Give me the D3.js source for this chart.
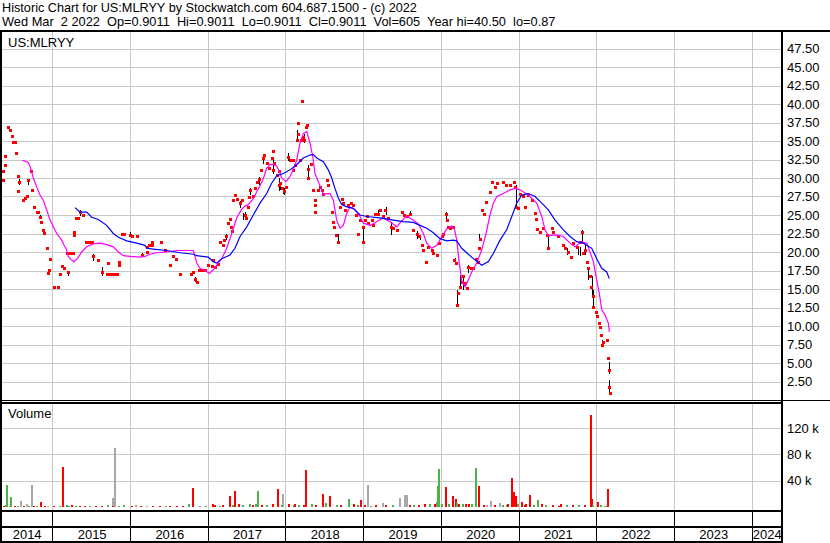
<!DOCTYPE html>
<html><head><meta charset="utf-8">
<script src="https://cdn.jsdelivr.net/npm/d3@7"></script>
<style>
body{margin:0;background:#fff}
svg{display:block}
text{font-family:"Liberation Sans",Arial,Helvetica,sans-serif;fill:#000}
</style>
</head><body>
<svg id="c" width="830" height="543"></svg>
<script>
// ---------------- DATA ----------------
const titleLine1 = "Historic Chart for US:MLRYY by Stockwatch.com 604.687.1500 - (c) 2022";
const titleLine2 = "Wed Mar  2 2022  Op=0.9011  Hi=0.9011  Lo=0.9011  Cl=0.9011  Vol=605  Year hi=40.50  lo=0.87";
const symbol = "US:MLRYY";

const years = [2014,2015,2016,2017,2018,2019,2020,2021,2022,2023,2024];
const priceTicks = [2.5,5,7.5,10,12.5,15,17.5,20,22.5,25,27.5,30,32.5,35,37.5,40,42.5,45,47.5];
const volTicks = [40,80,120];
const volTickLabels = ["40 k","80 k","120 k"];

// daily closes (decimal year, price)
const dotDates = [2014.362,2014.369,2014.387,2014.387,2014.430,2014.456,2014.478,2014.498,2014.514,2014.533,2014.563,2014.575,2014.563,2014.627,2014.650,2014.671,2014.691,2014.722,2014.735,2014.765,2014.799,2014.820,2014.842,2014.851,2014.884,2014.893,2014.928,2014.971,2014.962,2014.941,
2015.022,2015.077,2015.099,2015.121,2015.151,2015.206,2015.189,2015.228,2015.267,2015.279,2015.285,2015.305,2015.331,2015.357,2015.399,2015.434,2015.455,2015.480,2015.507,2015.520,2015.584,2015.636,2015.700,2015.720,2015.743,2015.713,2015.785,2015.807,2015.833,2015.859,2015.862,2015.893,2015.923,
2016.000,2016.022,2016.086,2016.151,2016.215,2016.217,2016.245,2016.279,2016.282,2016.399,2016.451,2016.515,2016.557,2016.592,2016.647,2016.785,2016.807,2016.837,2016.858,2016.892,2016.927,2016.965,
2017.008,2017.052,2017.072,2017.094,2017.137,2017.158,2017.193,2017.210,2017.236,2017.265,2017.287,2017.300,2017.317,2017.330,2017.351,2017.381,2017.416,2017.438,2017.480,2017.489,2017.523,2017.536,2017.545,2017.587,2017.609,2017.631,2017.660,2017.682,2017.716,2017.728,2017.759,2017.793,2017.823,2017.836,2017.844,2017.853,2017.888,2017.913,2017.921,2017.930,2017.952,2017.982,
2018.008,2018.037,2018.059,2018.094,2018.101,2018.123,2018.145,2018.158,2018.166,2018.188,2018.197,2018.210,2018.230,2018.239,2018.265,2018.274,2018.287,2018.290,2018.330,2018.359,2018.381,2018.383,2018.385,2018.424,2018.445,2018.467,2018.488,2018.531,2018.552,2018.596,2018.609,2018.626,2018.651,2018.681,2018.703,2018.732,2018.745,2018.767,2018.810,2018.844,2018.874,2018.909,2018.938,2018.960,2018.995,2018.997,
2019.025,2019.046,2019.067,2019.111,2019.131,2019.153,2019.195,2019.217,2019.252,2019.282,2019.324,2019.355,2019.389,2019.433,2019.497,2019.527,2019.562,2019.604,2019.647,2019.691,2019.724,2019.755,2019.775,2019.810,2019.839,2019.883,2019.904,2019.948,2019.981,
2020.012,2020.032,2020.063,2020.076,2020.097,2020.119,2020.161,2020.174,2020.196,2020.213,2020.215,2020.247,2020.269,2020.290,2020.312,2020.333,2020.354,2020.385,2020.418,2020.453,2020.483,2020.492,2020.505,2020.527,2020.556,2020.582,2020.633,2020.655,2020.698,2020.720,2020.805,2020.840,2020.891,2020.943,2020.955,2020.968,2020.998,
2021.019,2021.062,2021.084,2021.126,2021.170,2021.213,2021.225,2021.234,2021.277,2021.319,2021.363,2021.384,2021.427,2021.448,2021.512,2021.569,2021.598,2021.641,2021.672,2021.706,2021.749,2021.792,2021.814,2021.826,2021.856,2021.878,2021.899,2021.920,2021.933,2021.955,2021.963,2021.997,
2022.014,2022.040,2022.049,2022.058,2022.071,2022.091,2022.135,2022.156,2022.165,2022.169,2022.175];
const dotClose = [30.9,29.7,33.0,31.7,36.9,36.5,35.7,34.8,34.8,33.4,30.3,29.4,28.3,27.0,27.3,27.6,29.7,31.0,28.4,26.1,25.4,25.4,24.7,24.0,23.0,22.6,20.6,19.1,17.6,17.2,
15.3,15.3,17.0,18.1,17.8,17.3,19.9,19.9,19.9,22.3,22.7,24.6,24.6,25.4,25.0,21.3,21.3,21.3,21.3,19.4,18.9,17.3,17.0,17.0,17.0,18.5,17.0,17.0,17.0,18.7,18.3,22.5,22.4,
22.3,22.2,22.2,19.6,20.7,20.0,20.9,21.3,20.9,21.4,20.3,18.3,19.4,19.1,17.0,17.0,17.3,16.3,16.0,17.6,17.6,17.6,
18.3,18.1,18.9,18.0,18.4,21.4,20.9,21.6,22.1,23.9,24.4,23.4,22.9,27.0,27.7,27.1,26.6,27.0,25.0,24.6,26.1,27.4,28.4,27.5,28.6,29.4,29.9,31.1,32.7,33.1,32.0,31.3,32.7,33.6,31.1,32.0,30.4,30.9,29.0,29.3,28.6,28.2,
28.8,32.9,32.4,32.4,31.1,31.8,35.1,37.4,36.0,32.4,35.1,40.4,35.6,35.1,36.9,37.2,31.2,30.0,31.9,28.4,27.0,26.4,25.4,28.4,28.8,28.4,27.9,29.7,29.0,25.4,24.1,23.4,22.3,21.4,26.1,27.2,26.6,25.7,26.4,26.6,26.4,25.0,22.5,24.3,21.4,23.4,
24.3,24.8,23.9,24.3,23.6,25.2,25.2,25.7,24.8,25.7,24.6,23.4,23.2,23.0,25.4,25.0,24.8,25.2,23.0,22.5,22.1,20.9,20.3,18.7,20.7,20.3,19.8,19.6,21.2,
22.1,22.5,25.2,24.3,23.4,23.2,23.4,18.9,18.5,12.8,14.4,15.3,16.0,16.7,15.8,15.1,18.0,17.8,17.8,19.0,18.7,20.5,21.8,25.7,25.2,26.8,28.1,29.4,28.8,29.3,29.5,29.1,29.1,29.4,28.8,26.1,25.9,
27.9,27.5,26.1,27.7,27.0,25.3,24.5,23.1,22.7,23.2,22.3,20.5,23.2,22.7,22.1,20.9,20.5,20.0,19.3,21.2,20.7,21.4,22.7,19.8,20.3,18.7,17.8,16.7,15.3,14.0,12.6,11.9,
11.3,10.4,9.9,8.8,7.4,7.9,8.1,5.7,4.1,1.8,0.9];

// high-low bars (decimal year, high, low)
const barDates = [2014.568,2014.683,2014.842,2015.206,2015.357,2015.520,2015.636,2016.000,2016.151,2016.837,2017.236,2017.416,2017.459,2017.480,2017.545,2017.660,2017.716,2017.844,2017.921,2017.930,2017.965,2017.982,2018.037,2018.145,2018.239,2018.287,2018.681,2018.995,2019.195,2019.291,2019.355,2019.604,2019.691,2019.732,2019.904,2020.063,2020.183,2020.213,2020.247,2020.290,2020.354,2020.496,2020.968,2021.384,2021.629,2021.770,2021.792,2021.814,2021.856,2021.899,2021.942,2021.963,2022.071,2022.165,2022.169];
const barHigh = [29.8,29.8,25.0,17.5,25.7,19.7,18.0,22.7,19.9,16.6,22.5,26.9,25.3,25.4,28.6,30.2,33.0,32.5,30.0,29.5,28.8,28.6,33.4,36.5,36.0,31.8,22.5,23.4,25.7,26.1,24.1,25.6,22.9,22.3,20.3,25.4,19.2,14.9,16.9,16.7,18.2,22.5,29.0,22.1,20.5,20.5,20.7,23.0,20.9,17.8,16.7,14.9,8.1,5.2,2.7];
const barLow  = [29.1,29.0,24.5,16.8,24.8,18.8,16.8,22.0,19.4,16.0,21.6,26.0,24.3,24.5,27.7,29.1,31.9,30.5,28.2,28.4,27.9,27.7,32.3,35.1,34.7,29.7,21.2,21.4,24.8,25.0,22.3,24.8,21.8,21.6,19.6,24.1,18.2,12.6,15.1,14.9,17.1,21.6,26.0,20.3,19.6,19.6,19.4,21.2,19.6,16.2,14.0,12.6,7.2,3.5,1.0];

// short moving average (magenta)
const maShortDates = [2014.614,2014.691,2014.722,2014.756,2014.799,2014.842,2014.884,2014.928,2014.962,2014.992,2015.057,2015.121,2015.151,2015.185,2015.206,2015.237,2015.279,2015.322,2015.378,2015.443,2015.528,2015.614,2015.700,2015.785,2015.850,2015.914,2016.000,2016.129,2016.193,2016.258,2016.344,2016.472,2016.601,2016.815,2016.837,2016.858,2016.901,2016.965,2017.021,2017.072,2017.137,2017.180,2017.245,2017.309,2017.373,2017.438,2017.480,2017.523,2017.587,2017.635,2017.708,2017.759,2017.802,2017.853,2017.888,2017.921,2017.952,2018.008,2018.059,2018.101,2018.145,2018.188,2018.230,2018.274,2018.317,2018.352,2018.381,2018.424,2018.467,2018.488,2018.531,2018.574,2018.617,2018.660,2018.703,2018.745,2018.789,2018.831,2018.896,2018.960,2019.003,2019.089,2019.175,2019.260,2019.346,2019.433,2019.497,2019.562,2019.647,2019.711,2019.775,2019.819,2019.883,2019.948,2020.012,2020.076,2020.141,2020.174,2020.205,2020.238,2020.269,2020.312,2020.354,2020.398,2020.462,2020.527,2020.582,2020.633,2020.676,2020.720,2020.805,2020.891,2020.955,2021.019,2021.126,2021.234,2021.299,2021.341,2021.384,2021.492,2021.577,2021.663,2021.727,2021.814,2021.878,2021.920,2021.963,2022.006,2022.040,2022.071,2022.113,2022.156,2022.169];
const maShort = [32.4,32.1,31.3,30.0,28.8,27.7,27.0,25.7,24.6,23.9,22.5,21.6,20.9,20.3,19.4,19.0,18.7,19.1,20.0,20.7,21.1,21.2,21.0,20.7,20.0,19.5,19.4,19.3,19.4,19.7,19.9,20.0,20.2,20.2,19.4,18.5,17.8,17.5,17.1,17.6,18.5,19.1,20.5,22.5,24.6,25.8,26.2,26.4,27.2,28.2,29.7,31.3,31.8,31.8,31.6,30.9,30.0,29.5,30.2,31.1,32.4,34.7,36.0,36.3,34.7,32.9,30.6,29.5,28.4,27.7,27.9,27.9,27.0,24.3,23.2,23.6,25.2,26.1,25.7,24.8,23.9,23.6,24.1,24.6,24.1,23.4,24.2,24.9,24.3,23.8,22.5,21.2,20.5,20.9,22.1,23.1,23.5,23.2,21.6,18.5,16.2,15.3,16.2,17.3,18.5,20.3,22.5,25.0,26.6,27.5,27.9,28.4,28.6,28.4,27.7,26.6,24.8,23.0,22.2,22.3,22.1,21.2,20.7,21.4,21.2,20.0,18.7,16.2,14.4,12.2,11.5,10.4,9.2];

// long moving average (blue)
const maLongDates = [2015.292,2015.357,2015.443,2015.507,2015.592,2015.700,2015.785,2015.850,2015.958,2016.086,2016.193,2016.215,2016.300,2016.472,2016.644,2016.815,2016.858,2017.008,2017.072,2017.116,2017.180,2017.287,2017.351,2017.416,2017.502,2017.587,2017.673,2017.759,2017.823,2017.888,2017.973,2018.059,2018.145,2018.230,2018.317,2018.359,2018.403,2018.488,2018.552,2018.596,2018.638,2018.681,2018.725,2018.789,2018.874,2018.960,2019.046,2019.217,2019.389,2019.518,2019.647,2019.732,2019.819,2019.904,2019.990,2020.076,2020.161,2020.205,2020.269,2020.333,2020.418,2020.527,2020.612,2020.676,2020.762,2020.848,2020.913,2020.977,2021.041,2021.126,2021.213,2021.299,2021.384,2021.470,2021.577,2021.663,2021.749,2021.834,2021.942,2022.006,2022.071,2022.135,2022.169];
const maLong = [26.0,25.4,25.4,24.7,24.4,23.6,22.5,22.0,21.5,21.2,20.9,20.5,20.4,20.2,19.9,19.7,19.5,19.3,18.7,18.5,19.1,19.6,20.5,22.1,23.4,25.0,26.6,27.9,29.3,30.3,30.6,31.1,31.8,32.7,33.1,33.2,32.7,32.2,31.1,30.0,28.6,27.3,26.4,26.1,25.9,25.0,24.8,24.6,24.3,24.1,24.0,23.6,23.2,22.6,21.8,21.5,21.6,21.5,20.5,19.9,19.1,18.2,18.7,19.8,21.6,23.0,24.8,26.6,27.7,27.9,27.5,26.6,25.7,24.3,23.0,22.1,21.4,21.2,20.5,19.1,17.8,17.3,16.4];

// volume (decimal year, thousands of shares, direction)
const volDates = [2014.421,2014.469,2014.601,2014.678,2014.735,2014.851,2015.144,2015.185,2015.804,2015.785,2016.811,2017.068,2017.282,2017.351,2017.541,2017.644,2017.902,2017.969,2018.107,2018.263,2018.482,2018.574,2018.818,2018.978,2019.025,2019.059,2019.250,2019.475,2019.543,2019.565,2019.951,2019.964,2019.977,2020.067,2020.162,2020.196,2020.209,2020.319,2020.453,2020.489,2020.646,2020.762,2020.852,2020.917,2020.942,2020.968,2021.045,2021.148,2021.251,2021.449,2021.547,2021.927,2021.940,2022.023,2022.111,2022.158,
2014.38,2014.40,2014.45,2014.52,2014.56,2014.64,2014.70,2014.76,2014.80,2014.90,2014.95,2015.02,2015.10,2015.22,2015.26,2015.30,2015.36,2015.42,2015.48,2015.56,2015.64,2015.72,2015.78,2015.86,2015.92,2016.02,2016.08,2016.14,2016.22,2016.30,2016.38,2016.46,2016.52,2016.60,2016.68,2016.76,2016.90,2016.98,2017.10,2017.16,2017.20,2017.32,2017.40,2017.46,2017.58,2017.62,2017.70,2017.76,2017.84,2017.96,2018.04,2018.12,2018.18,2018.24,2018.34,2018.40,2018.52,2018.58,2018.66,2018.72,2018.88,2018.94,2019.10,2019.16,2019.30,2019.38,2019.60,2019.66,2019.72,2019.80,2019.86,2019.92,2020.02,2020.10,2020.24,2020.28,2020.36,2020.40,2020.56,2020.60,2020.70,2020.80,2020.86,2020.99,2021.08,2021.10,2021.20,2021.30,2021.36,2021.44,2021.52,2021.62,2021.70,2021.78,2021.86,2021.96,2022.06,2022.13];
const volValues = [33,15,9,4.6,33,8,61,3,90,14,29,5,17,24,4,24,27,20,3,56,20,16,12,11,3,33,5.6,14,18,18,8,32,58,30,17,12,6,5,59,32,9,5.6,3,44,23,16,8,18,11,3,5,140,12,8,2,28,
2,3,2,2,2,1.5,2,2,1.5,2,1.5,1.5,2,2,3,2,2,1.5,2,2,1.5,3,2,2,3,2,3,2,2,1.5,2,2,2,2,2,4,2,2,3,2,3,3,4,3,3,4,3,3,4,3,5,4,3,3,4,3,6,4,3,3,4,3,2,3,3,3,3,3,3,4,5,4,4,5,4,5,4,5,3,3,3,3,4,5,3,4,3,4,3,3,2,3,3,3,3,3,3,2];
const volDir = ["up","up","flat","flat","flat","down","down","up","flat","flat","down","down","down","down","up","up","down","flat","up","down","down","down","up","down","down","flat","flat","flat","flat","flat","up","up","up","down","down","down","up","down","up","down","flat","flat","up","down","down","down","down","down","up","flat","down","down","down","down","up","down",
"down","up","up","down","up","down","up","down","up","down","flat","down","up","up","down","up","down","down","up","down","down","up","down","up","up","down","flat","down","flat","down","down","up","down","down","down","up","flat","up","down","up","down","up","down","up","down","up","down","up","down","up","down","down","up","down","up","down","up","down","up","down","down","up","up","down","down","up","down","up","down","down","up","down","up","up","down","up","down","up","down","flat","down","up","down","up","down","down","up","down","up","down","down","up","down","up","down","up"];

// ---------------- CHART ----------------
const svg = d3.select("#c");
const plotL = 2, plotR = 781, priceTop = 31, priceBot = 400, volTop = 403, volBot = 510;

const x = d3.scaleLinear().domain([2014.327, 2024.378]).range([0, 781]);
const y = d3.scaleLinear().domain([0, 50]).range([400, 30]);
const yv = d3.scaleLinear().domain([0, 160]).range([507, 401.8]);
const volColor = d3.scaleOrdinal().domain(["up","down","flat"]).range(["#4cb34c","#ff0000","#a8a8a8"]);

const defs = svg.append("defs");
defs.append("clipPath").attr("id","cp").append("rect").attr("x",plotL).attr("y",priceTop).attr("width",plotR-plotL).attr("height",priceBot-priceTop);
defs.append("clipPath").attr("id","cv").append("rect").attr("x",plotL).attr("y",volTop).attr("width",plotR-plotL).attr("height",volBot-volTop);

// header
svg.append("text").attr("x",2).attr("y",12).style("font-size","12.7px").text(titleLine1);
svg.append("text").attr("x",2).attr("y",26).style("font-size","12.8px").style("white-space","pre").attr("xml:space","preserve").text(titleLine2);

const grid = "#c8c8c8";
const yearBounds = years.slice(1);

// price grid
const pg = svg.append("g").attr("shape-rendering","crispEdges");
pg.selectAll("line.h").data(priceTicks).join("line")
  .attr("x1",plotL).attr("x2",plotR).attr("y1",d=>Math.round(y(d))+0.5).attr("y2",d=>Math.round(y(d))+0.5)
  .attr("stroke",grid);
pg.selectAll("line.v").data(yearBounds).join("line")
  .attr("x1",d=>Math.round(x(d))+0.5).attr("x2",d=>Math.round(x(d))+0.5).attr("y1",priceTop).attr("y2",priceBot)
  .attr("stroke",grid);

// volume grid
const vg = svg.append("g").attr("shape-rendering","crispEdges");
vg.selectAll("line.h").data(volTicks).join("line")
  .attr("x1",plotL).attr("x2",plotR).attr("y1",d=>Math.round(yv(d))+0.5).attr("y2",d=>Math.round(yv(d))+0.5)
  .attr("stroke",grid);
vg.selectAll("line.v").data(yearBounds).join("line")
  .attr("x1",d=>Math.round(x(d))+0.5).attr("x2",d=>Math.round(x(d))+0.5).attr("y1",volTop).attr("y2",volBot)
  .attr("stroke",grid);

// price marks
const pm = svg.append("g").attr("clip-path","url(#cp)");
pm.selectAll("line.bar").data(barDates).join("line")
  .attr("shape-rendering","crispEdges")
  .attr("x1",(d)=>Math.round(x(d))+0.5).attr("x2",(d)=>Math.round(x(d))+0.5)
  .attr("y1",(d,i)=>y(barHigh[i])).attr("y2",(d,i)=>y(barLow[i]))
  .attr("stroke","#000").attr("stroke-width",1.5);
pm.selectAll("rect.dot").data(dotDates).join("rect")
  .attr("shape-rendering","crispEdges")
  .attr("x",d=>Math.round(x(d))-1).attr("y",(d,i)=>Math.round(y(dotClose[i]))-1)
  .attr("width",3).attr("height",3).attr("fill","#ff0000");

const line = d3.line().x(d=>x(d[0])).y(d=>y(d[1]));
pm.append("path").datum(maShortDates.map((d,i)=>[d,maShort[i]]))
  .attr("d",line).attr("fill","none").attr("stroke","#ff00ff").attr("stroke-width",1.2);
pm.append("path").datum(maLongDates.map((d,i)=>[d,maLong[i]]))
  .attr("d",line).attr("fill","none").attr("stroke","#0000ff").attr("stroke-width",1.2);

// volume bars
const vm = svg.append("g").attr("clip-path","url(#cv)").attr("shape-rendering","crispEdges");
vm.selectAll("rect").data(volDates).join("rect")
  .attr("x",d=>Math.round(x(d))-1).attr("width",2)
  .attr("y",(d,i)=>Math.round(yv(volValues[i]))).attr("height",(d,i)=>Math.max(1,Math.round(yv(0))-Math.round(yv(volValues[i]))))
  .attr("fill",(d,i)=>volColor(volDir[i]));

// panel labels
svg.append("text").attr("x",8).attr("y",47).style("font-size","13px").text(symbol);
svg.append("text").attr("x",8).attr("y",418).style("font-size","13px").text("Volume");

// right axes
const ay = svg.append("g").attr("transform",`translate(${plotR},0)`)
  .call(d3.axisRight(y).tickValues(priceTicks).tickFormat(d3.format(".2f")).tickSize(0).tickPadding(6));
ay.select(".domain").remove();
ay.selectAll("text").style("font-size","13px").attr("fill","#000");
ay.attr("font-family",null).attr("font-size",null);

const av = svg.append("g").attr("transform",`translate(${plotR},0)`)
  .call(d3.axisRight(yv).tickValues(volTicks).tickFormat((d,i)=>volTickLabels[i]).tickSize(0).tickPadding(6));
av.select(".domain").remove();
av.selectAll("text").style("font-size","13px").attr("fill","#000");
av.attr("font-family",null).attr("font-size",null);

// bottom year row
const yg = svg.append("g").attr("shape-rendering","crispEdges");
yg.selectAll("line").data(yearBounds).join("line")
  .attr("x1",d=>Math.round(x(d))+0.5).attr("x2",d=>Math.round(x(d))+0.5).attr("y1",volBot).attr("y2",542)
  .attr("stroke","#000").attr("stroke-width",1.5);
const [d0,d1] = x.domain();
svg.append("g").selectAll("text").data(years).join("text")
  .attr("x",d=>(x(Math.max(d,d0))+x(Math.min(d+1,d1)))/2 + 1)
  .attr("y",539).attr("text-anchor","middle").style("font-size","13px").text(d=>String(d));

// frame lines
const fr = svg.append("g").attr("stroke","#000").attr("shape-rendering","crispEdges");
fr.append("line").attr("x1",0).attr("x2",830).attr("y1",30.5).attr("y2",30.5).attr("stroke-width",2);
fr.append("line").attr("x1",1).attr("x2",1).attr("y1",30).attr("y2",543).attr("stroke-width",2);
fr.append("line").attr("x1",plotR+0.5).attr("x2",plotR+0.5).attr("y1",30).attr("y2",543).attr("stroke-width",2);
fr.append("line").attr("x1",0).attr("x2",830).attr("y1",400.5).attr("y2",400.5).attr("stroke-width",1.5);
fr.append("line").attr("x1",0).attr("x2",plotR).attr("y1",403).attr("y2",403).attr("stroke-width",1.5);
fr.append("line").attr("x1",0).attr("x2",plotR).attr("y1",510.5).attr("y2",510.5).attr("stroke-width",2);
fr.append("line").attr("x1",0).attr("x2",plotR).attr("y1",526.5).attr("y2",526.5).attr("stroke-width",2);
fr.append("line").attr("x1",0).attr("x2",plotR).attr("y1",542).attr("y2",542).attr("stroke-width",2);
</script>
</body></html>
